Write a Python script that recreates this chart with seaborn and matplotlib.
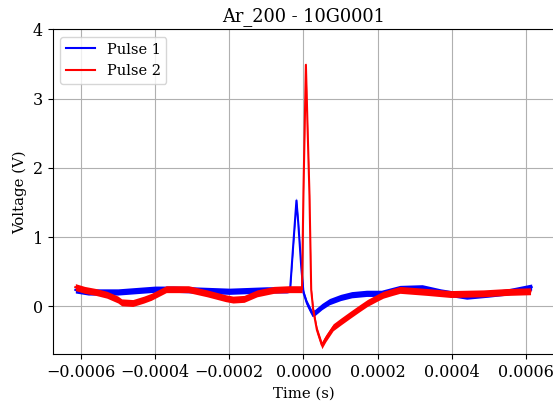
import numpy as np
import pandas as pd
import matplotlib
matplotlib.use("Agg")
import matplotlib.pyplot as plt
import seaborn as sns

# --- Data (time in s, voltage in V) ---
pulse1_time = [-0.000615, -0.00058, -0.00055, -0.00050, -0.00045, -0.00040, -0.00035,
               -0.00030, -0.00025, -0.00020, -0.00015, -0.00010, -0.00007, -0.000045,
               -0.000036, -0.000028, -0.000019, -0.000014, -0.000006, 0.0, 0.000009,
               0.000023, 0.00003, 0.00005, 0.00007, 0.00010, 0.00013, 0.00017,
               0.00021, 0.00026, 0.00032, 0.00037, 0.00044, 0.00050, 0.00055, 0.000615]
pulse1_volt = [0.24, 0.21, 0.21, 0.21, 0.23, 0.25, 0.25,
               0.24, 0.23, 0.22, 0.23, 0.24, 0.24, 0.24,
               0.25, 0.86, 1.53, 1.20, 0.57, 0.20, 0.05,
               -0.10, -0.09, 0.00, 0.07, 0.13, 0.17, 0.19,
               0.19, 0.26, 0.27, 0.21, 0.15, 0.18, 0.21, 0.28]

pulse2_time = [-0.000615, -0.00059, -0.00056, -0.00053, -0.00050, -0.00049, -0.00046,
               -0.00043, -0.00041, -0.00037, -0.00031, -0.00026, -0.00021, -0.00019,
               -0.00016, -0.000125, -0.00008, -0.00004, -0.000004, 0.0, 0.0000065,
               0.0000108, 0.0000162, 0.0000208, 0.0000262, 0.0000362, 0.0000496,
               0.00006, 0.00007, 0.00008, 0.00010, 0.000126, 0.00015, 0.000172,
               0.00020, 0.000215, 0.00024, 0.00026, 0.000333, 0.000396, 0.000485,
               0.00055, 0.000612]
pulse2_volt = [0.28, 0.24, 0.21, 0.17, 0.10, 0.06, 0.05,
               0.10, 0.14, 0.25, 0.25, 0.19, 0.12, 0.10,
               0.11, 0.19, 0.24, 0.25, 0.25, 1.68, 3.49,
               2.62, 1.60, 0.24, -0.05, -0.34, -0.56,
               -0.46, -0.38, -0.30, -0.22, -0.12, -0.03, 0.05,
               0.13, 0.17, 0.21, 0.24, 0.21, 0.18, 0.19,
               0.21, 0.22]

series_names = ["Pulse 1", "Pulse 2"]
series_colors = {"Pulse 1": "blue", "Pulse 2": "red"}
noise_half_width = {"Pulse 1": 0.045, "Pulse 2": 0.05}

df = pd.concat([
    pd.DataFrame({"Time": pulse1_time, "Voltage": pulse1_volt, "Pulse": "Pulse 1"}),
    pd.DataFrame({"Time": pulse2_time, "Voltage": pulse2_volt, "Pulse": "Pulse 2"}),
], ignore_index=True)

plt.rcParams["font.family"] = ["DejaVu Serif"]

fig = plt.figure(figsize=(5.53, 4.01), dpi=100)
ax = fig.add_axes([0.0953, 0.1165, 0.907, 0.810])

sns.lineplot(data=df, x="Time", y="Voltage", hue="Pulse", hue_order=series_names,
             palette=series_colors, estimator=None, linewidth=1.5, ax=ax)

# band to mimic the noisy trace
for name in series_names:
    sub = df[df["Pulse"] == name]
    ax.fill_between(sub["Time"], sub["Voltage"] - noise_half_width[name],
                    sub["Voltage"] + noise_half_width[name],
                    color=series_colors[name], linewidth=0, zorder=2 + series_names.index(name))
for line, name in zip(ax.get_lines(), series_names):
    line.set_zorder(2.5 + series_names.index(name))

ax.set_xlim(-0.000676, 0.000676)
ax.set_ylim(-0.69, 4)
ax.set_yticks([0, 1, 2, 3, 4])
ax.grid(True)
ax.set_axisbelow(True)
for sp in ax.spines.values():
    sp.set_visible(True)
    sp.set_color("black")
ax.tick_params(labelsize=11.5)
ax.set_title("Ar_200 - 10G0001", fontsize=12.8)
ax.set_xlabel("Time (s)", fontsize=10.7)
ax.set_ylabel("Voltage (V)", fontsize=10.7)
ax.legend(loc="upper left", title=None, fontsize=10.5)

fig.savefig("out.png", dpi=100)
